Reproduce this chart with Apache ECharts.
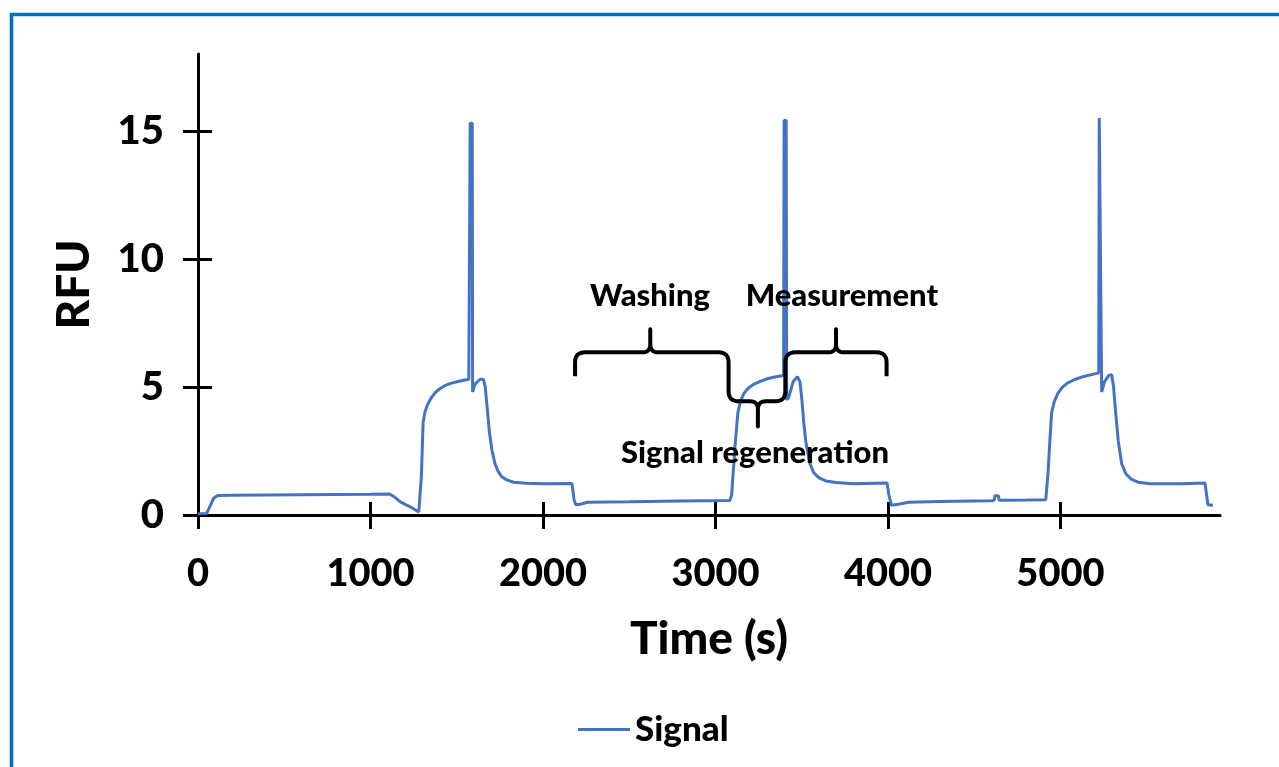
<!DOCTYPE html>
<html>
<head>
<meta charset="utf-8">
<script src="https://cdn.jsdelivr.net/npm/echarts@6/dist/echarts.min.js"></script>
<style>html,body{margin:0;padding:0;background:#fff;}#c{width:1279px;height:767px;}</style>
</head>
<body>
<div id="c"></div>
<script>
// Time (s)
const time = [0,50,70,90,115,200,400,600,800,1000,1110,1140,1175,1230,1280,
  1295,1305,1315,1330,1350,1375,1400,1430,1470,1520,1570,1575,1578,1590,1592,1605,1635,1655,1665,1675,1690,1705,1722,1740,1760,1790,1830,1900,2000,2168,2180,2190,2215,2260,2500,2800,3084,
  3094,3113,3130,3145,3165,3190,3220,3260,3300,3350,3395,3398,3410,3413,3425,3450,3475,3490,3501,3512,3525,3548,3570,3600,3640,3700,3800,3995,4005,4020,4060,4120,4300,4600,4615,4620,4640,4645,4800,4915,
  4928,4939,4949,4965,4985,5010,5040,5080,5130,5180,5222,5225,5236,5239,5255,5280,5297,5308,5320,5335,5355,5380,5410,5450,5520,5700,5838,5845,5855,5884];
// RFU
const rfu = [0.05,0.06,0.35,0.65,0.76,0.77,0.78,0.79,0.80,0.81,0.82,0.70,0.50,0.32,0.12,
  1.5,3.6,4.0,4.3,4.55,4.78,4.92,5.05,5.15,5.23,5.3,5.3,15.3,15.3,4.8,5.1,5.3,5.3,5.0,4.3,3.2,2.5,2.0,1.7,1.5,1.37,1.28,1.24,1.22,1.23,0.6,0.4,0.42,0.5,0.52,0.55,0.57,
  0.8,2.66,4.0,4.45,4.75,4.95,5.1,5.22,5.32,5.4,5.45,15.4,15.4,4.5,4.6,5.2,5.4,5.2,4.5,3.6,2.8,2.0,1.65,1.45,1.33,1.27,1.22,1.25,0.8,0.38,0.42,0.5,0.53,0.56,0.57,0.75,0.75,0.58,0.59,0.6,
  1.64,2.94,4.0,4.45,4.75,4.98,5.15,5.28,5.4,5.48,5.55,15.5,15.5,4.8,5.2,5.45,5.48,5.0,4.0,2.9,2.0,1.6,1.4,1.28,1.22,1.22,1.25,0.9,0.4,0.38];
const xTicks = [0,1000,2000,3000,4000,5000];
const yTicks = [0,5,10,15];
const seriesName = 'Signal';
const xTitle = 'Time (s)';
const yTitle = 'RFU';
// Annotation brace path in data units: [time, rfu, cornerRadiusPx]
const bracePts = [
  [2186,5.42,0],[2186,6.35,10],[2622,6.35,8],[2622,7.25,0],[2622,6.35,8],[3076,6.35,10],
  [3076,4.44,10],[3246,4.44,8],[3246,3.46,0],[3246,4.44,8],[3405,4.44,10],[3405,6.35,10],
  [3699,6.35,8],[3699,7.25,0],[3699,6.35,8],[3992,6.35,10],[3992,5.42,0]
];
const annotations = [
  {text:'Washing', x:2620, y:8.54},
  {text:'Measurement', x:3733, y:8.54},
  {text:'Signal regeneration', x:3229, y:2.43}
];

const FONT = 'Lato, "Open Sans", sans-serif';
const W = 900;
const data = time.map((t,i)=>[t, rfu[i]]);

function roundedPolyline(pts){
  const out = [];
  for (let i=0;i<pts.length;i++){
    const p = pts[i], r = p[2];
    if (i===0 || i===pts.length-1 || !r){ out.push([p[0],p[1]]); continue; }
    const a = pts[i-1], b = pts[i+1];
    const d1 = Math.hypot(p[0]-a[0],p[1]-a[1]), d2 = Math.hypot(b[0]-p[0],b[1]-p[1]);
    const r1 = Math.min(r, d1/2), r2 = Math.min(r, d2/2);
    const s = [p[0]+(a[0]-p[0])*r1/d1, p[1]+(a[1]-p[1])*r1/d1];
    const e = [p[0]+(b[0]-p[0])*r2/d2, p[1]+(b[1]-p[1])*r2/d2];
    for (let k=0;k<=8;k++){
      const t=k/8, u=1-t;
      out.push([u*u*s[0]+2*u*t*p[0]+t*t*e[0], u*u*s[1]+2*u*t*p[1]+t*t*e[1]]);
    }
  }
  return out;
}

const chart = echarts.init(document.getElementById('c'), null, {renderer:'canvas'});
const axisBlack = {color:'#000', width:3};
chart.setOption({
  animation:false,
  backgroundColor:'#fff',
  grid:{left:198, right:59, top:54, bottom:252, containLabel:false, outerBoundsMode:'none'},
  graphic:[{type:'rect', silent:true, z:100, shape:{x:11.5,y:14.5,width:1400,height:900}, style:{fill:'none', stroke:'#0070C0', lineWidth:3.5}}],
  legend:{data:[seriesName], left:573, top:707, icon:'rect', itemWidth:52, itemHeight:3,
    textStyle:{fontFamily:FONT, fontWeight:W, fontSize:35, color:'#000'}},
  xAxis:[
    {type:'value', min:0, max:5925, position:'bottom',
     axisLine:{lineStyle:axisBlack}, splitLine:{show:false},
     axisTick:{show:true, inside:false, length:14, lineStyle:axisBlack, customValues:xTicks},
     axisLabel:{customValues:xTicks, margin:40, formatter:v=>String(v), fontFamily:FONT, fontWeight:W, fontSize:38, color:'#000'},
     name:xTitle, nameLocation:'middle', nameGap:101,
     nameTextStyle:{fontFamily:FONT, fontWeight:W, fontSize:46, color:'#000'}},
    {type:'value', min:0, max:5925, position:'bottom',
     axisLine:{show:false}, splitLine:{show:false},
     axisTick:{show:true, inside:true, length:13, lineStyle:axisBlack, customValues:xTicks},
     axisLabel:{show:false}}
  ],
  yAxis:[
    {type:'value', min:0, max:18, position:'left',
     axisLine:{show:true, lineStyle:axisBlack}, splitLine:{show:false},
     axisTick:{show:true, inside:false, length:15, lineStyle:axisBlack, customValues:yTicks},
     axisLabel:{customValues:yTicks, margin:34, formatter:v=>String(v), fontFamily:FONT, fontWeight:W, fontSize:40, color:'#000'},
     name:yTitle, nameLocation:'middle', nameGap:101, nameRotate:90,
     nameTextStyle:{fontFamily:FONT, fontWeight:W, fontSize:46, color:'#000'}},
    {type:'value', min:0, max:18, position:'left', offset:0,
     axisLine:{show:false}, splitLine:{show:false},
     axisTick:{show:true, inside:true, length:14, lineStyle:axisBlack, customValues:yTicks},
     axisLabel:{show:false}}
  ],
  series:[
    {name:seriesName, type:'line', data:data, xAxisIndex:0, yAxisIndex:0,
     showSymbol:false, symbol:'none', lineStyle:{color:'#4472C4', width:3}, itemStyle:{color:'#4472C4'}, z:2},
    {name:'annot', type:'custom', xAxisIndex:0, yAxisIndex:0, data:[[bracePts[0][0], bracePts[0][1]]], z:3, silent:true,
     renderItem:function(params, api){
       const px = bracePts.map(p=>{const c=api.coord([p[0],p[1]]); return [c[0],c[1],p[2]];});
       const children = [{type:'polyline', shape:{points:roundedPolyline(px)}, style:{stroke:'#000', lineWidth:4, fill:null, lineJoin:'round', lineCap:'butt'}}];
       annotations.forEach(a=>{
         const c = api.coord([a.x,a.y]);
         children.push({type:'text', x:c[0], y:c[1], style:{text:a.text, fill:'#000', font:W+' 31px '+FONT, align:'center', verticalAlign:'middle', textAlign:'center', textVerticalAlign:'middle'}});
       });
       return {type:'group', children:children};
     }}
  ]
});
</script>
</body>
</html>
